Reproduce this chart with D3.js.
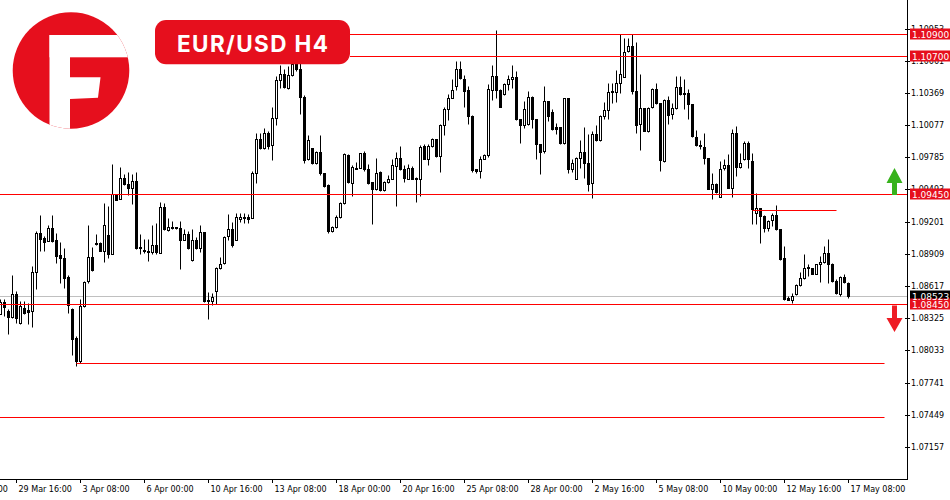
<!DOCTYPE html>
<html><head><meta charset="utf-8">
<script src="https://cdn.jsdelivr.net/npm/d3@7"></script>
<style>body{margin:0;background:#fff;} svg{display:block;}</style>
</head><body>
<svg id="chart" width="950" height="500"></svg>
<script>
// ---- Data (EUR/USD H4 candles, bar index 0..212) ----
const openP = [1.08365,1.08474,1.08389,1.08335,1.08540,1.08283,1.08419,1.08395,1.08389,1.08746,
1.09100,1.09048,1.09024,1.09145,1.09030,1.08897,1.08867,1.08698,1.08404,1.08141,
1.07936,1.08434,1.08661,1.08882,1.08994,1.09009,1.08939,1.09078,1.08909,1.09456,
1.09408,1.09598,1.09538,1.09508,1.09574,1.08967,1.08942,1.08939,1.08927,1.08988,
1.08918,1.09335,1.09124,1.09145,1.09148,1.09145,1.09030,1.09090,1.08849,1.09030,
1.08964,1.09109,1.08486,1.08480,1.08571,1.08776,1.08827,1.09069,1.09131,1.09034,
1.09227,1.09245,1.09245,1.09236,1.09638,1.09947,1.09871,1.10007,1.09892,1.10137,
1.10482,1.10542,1.10415,1.10536,1.10627,1.10582,1.10331,1.09765,1.09871,1.09729,
1.09835,1.09638,1.09532,1.09115,1.09152,1.09245,1.09366,1.09802,1.09554,1.09681,
1.09690,1.09820,1.09681,1.09560,1.09493,1.09653,1.09487,1.09560,1.09590,1.09705,
1.09774,1.09675,1.09590,1.09690,1.09599,1.09590,1.09886,1.09771,1.09886,1.09947,
1.09796,1.10074,1.10219,1.10325,1.10430,1.10582,1.10497,1.10391,1.10164,1.09675,
1.09660,1.09771,1.09802,1.10400,1.10527,1.10400,1.10355,1.10452,1.10497,1.10515,
1.10128,1.10074,1.10083,1.10334,1.10128,1.09901,1.09841,1.10300,1.10195,1.10058,
1.10058,1.09916,1.10319,1.09675,1.09590,1.09780,1.09835,1.09729,1.09554,1.09992,
1.09938,1.10164,1.10210,1.10376,1.10376,1.10461,1.10515,1.10748,1.10799,1.10385,
1.10089,1.10234,1.10022,1.10240,1.10409,1.10273,1.09750,1.10309,1.10182,1.10234,
1.10424,1.10364,1.10364,1.10264,1.09971,1.09892,1.09880,1.09780,1.09499,1.09547,
1.09427,1.09690,1.09711,1.09508,1.10001,1.09699,1.09765,1.09916,1.09750,1.09275,
1.09321,1.09251,1.09145,1.09212,1.09260,1.09130,1.08867,1.08511,1.08489,1.08541,
1.08625,1.08686,1.08783,1.08783,1.08728,1.08819,1.08834,1.08913,1.08813,1.08662,
1.08541,1.08701,1.08647];
const highP = [1.08495,1.08495,1.08404,1.08713,1.08571,1.08480,1.08480,1.08465,1.08797,1.09115,
1.09257,1.09069,1.09166,1.09257,1.09100,1.09015,1.08964,1.08713,1.08419,1.08162,
1.08495,1.08661,1.09166,1.08973,1.09090,1.09015,1.09372,1.09341,1.09728,1.09456,
1.09698,1.09629,1.09653,1.09629,1.09653,1.09090,1.09039,1.09039,1.09166,1.09190,
1.09378,1.09366,1.09236,1.09211,1.09154,1.09211,1.09136,1.09115,1.09136,1.09060,
1.09166,1.09109,1.08565,1.08549,1.08788,1.08879,1.09075,1.09266,1.09197,1.09282,
1.09282,1.09282,1.09267,1.09660,1.10007,1.10007,1.10053,1.10022,1.10243,1.10521,
1.10618,1.10582,1.10612,1.10657,1.10657,1.10657,1.10346,1.09983,1.09871,1.09841,
1.09986,1.09638,1.09539,1.09161,1.09257,1.09381,1.09820,1.09817,1.09711,1.09741,
1.09826,1.09841,1.09720,1.09560,1.09780,1.09660,1.09569,1.09620,1.09765,1.09832,
1.09886,1.09714,1.09720,1.09705,1.09602,1.09892,1.09901,1.09901,1.09962,1.09953,
1.10083,1.10243,1.10355,1.10491,1.10657,1.10657,1.10536,1.10430,1.10173,1.09681,
1.09796,1.09811,1.10446,1.10618,1.10944,1.10409,1.10461,1.10536,1.10621,1.10566,
1.10134,1.10294,1.10385,1.10340,1.10128,1.09901,1.10436,1.10300,1.10219,1.10098,
1.10058,1.10325,1.10319,1.09765,1.09786,1.09941,1.10058,1.09992,1.10022,1.10074,
1.10173,1.10285,1.10455,1.10455,1.10576,1.10908,1.10863,1.10869,1.10905,1.10829,
1.10545,1.10234,1.10243,1.10415,1.10461,1.10279,1.10316,1.10340,1.10279,1.10527,
1.10527,1.10497,1.10406,1.10270,1.10037,1.09946,1.10001,1.09780,1.09644,1.09553,
1.09750,1.09765,1.09816,1.10043,1.10067,1.09826,1.09931,1.09931,1.09826,1.09463,
1.09327,1.09257,1.09212,1.09275,1.09351,1.09136,1.08979,1.08526,1.08556,1.08631,
1.08746,1.08904,1.08813,1.08783,1.08819,1.08888,1.08979,1.09046,1.08822,1.08677,
1.08707,1.08722,1.08653];
const lowP = [1.08359,1.08344,1.08184,1.08329,1.08283,1.08268,1.08359,1.08268,1.08244,1.08586,
1.08939,1.08939,1.09024,1.09020,1.08827,1.08646,1.08601,1.08374,1.07987,1.07890,
1.07921,1.08425,1.08646,1.08752,1.08991,1.08939,1.08834,1.08867,1.08903,1.09396,
1.09408,1.09532,1.09447,1.09357,1.08954,1.08903,1.08918,1.08843,1.08903,1.08903,
1.08918,1.09124,1.09115,1.09136,1.09136,1.08767,1.09030,1.08954,1.08843,1.08954,
1.08924,1.08474,1.08320,1.08444,1.08450,1.08767,1.08821,1.09030,1.08970,1.09031,
1.09197,1.09191,1.09191,1.09230,1.09554,1.09856,1.09862,1.09856,1.09759,1.10074,
1.10415,1.10415,1.10409,1.10521,1.10566,1.10179,1.09729,1.09759,1.09720,1.09720,
1.09620,1.09517,1.09094,1.09109,1.09146,1.09236,1.09357,1.09548,1.09433,1.09675,
1.09684,1.09660,1.09539,1.09176,1.09487,1.09478,1.09478,1.09548,1.09584,1.09342,
1.09669,1.09560,1.09584,1.09584,1.09378,1.09433,1.09765,1.09714,1.09880,1.09790,
1.09654,1.09983,1.10122,1.10319,1.10400,1.10491,1.10240,1.10083,1.09650,1.09644,
1.09599,1.09765,1.09790,1.10309,1.10319,1.10240,1.10349,1.10391,1.10415,1.10122,
1.09916,1.10053,1.10074,1.10053,1.09771,1.09629,1.09826,1.10113,1.10037,1.09992,
1.09910,1.09910,1.09638,1.09650,1.09584,1.09690,1.09593,1.09478,1.09418,1.09932,
1.09932,1.10128,1.10134,1.10279,1.10288,1.10370,1.10512,1.10742,1.10355,1.10007,
1.09850,1.10022,1.10016,1.10234,1.10270,1.09660,1.09744,1.10083,1.10128,1.10225,
1.10346,1.10225,1.10128,1.09971,1.09886,1.09856,1.09726,1.09493,1.09402,1.09463,
1.09424,1.09674,1.09502,1.09424,1.09614,1.09690,1.09759,1.09690,1.09176,1.09176,
1.09003,1.09106,1.09115,1.09160,1.09124,1.08852,1.08489,1.08486,1.08465,1.08532,
1.08616,1.08677,1.08707,1.08722,1.08722,1.08653,1.08828,1.08647,1.08653,1.08547,
1.08526,1.08647,1.08511];
const closeP = [1.08474,1.08425,1.08335,1.08540,1.08329,1.08434,1.08374,1.08383,1.08746,1.09100,
1.09045,1.09018,1.09145,1.09024,1.08888,1.08870,1.08691,1.08444,1.08132,1.07936,
1.08434,1.08655,1.08882,1.08758,1.09003,1.08939,1.09166,1.08909,1.09456,1.09396,
1.09598,1.09538,1.09508,1.09574,1.08964,1.08961,1.08936,1.08927,1.08988,1.08924,
1.09335,1.09130,1.09154,1.09151,1.09142,1.09030,1.09090,1.08964,1.09030,1.08964,
1.09109,1.08480,1.08480,1.08516,1.08776,1.08818,1.09063,1.09130,1.08985,1.09245,
1.09245,1.09233,1.09227,1.09638,1.09947,1.09865,1.10007,1.09886,1.10137,1.10482,
1.10542,1.10421,1.10536,1.10627,1.10582,1.10331,1.09759,1.09941,1.09729,1.09835,
1.09638,1.09523,1.09115,1.09152,1.09245,1.09372,1.09811,1.09560,1.09696,1.09690,
1.09820,1.09675,1.09554,1.09499,1.09644,1.09487,1.09560,1.09584,1.09714,1.09774,
1.09675,1.09599,1.09690,1.09590,1.09584,1.09880,1.09771,1.09886,1.09953,1.09796,
1.10074,1.10219,1.10325,1.10400,1.10582,1.10500,1.10385,1.10164,1.09669,1.09660,
1.09771,1.09802,1.10409,1.10527,1.10400,1.10240,1.10446,1.10497,1.10515,1.10128,
1.10074,1.10225,1.10334,1.10134,1.09907,1.09832,1.10300,1.10158,1.10043,1.10046,
1.09916,1.10319,1.09675,1.09735,1.09780,1.09835,1.09735,1.09545,1.09992,1.09938,
1.10164,1.10213,1.10379,1.10385,1.10455,1.10542,1.10742,1.10799,1.10385,1.10074,
1.10234,1.10022,1.10234,1.10409,1.10273,1.09756,1.10309,1.10167,1.10234,1.10424,
1.10355,1.10355,1.10264,1.09977,1.09895,1.09886,1.09780,1.09499,1.09547,1.09469,
1.09680,1.09711,1.09508,1.10001,1.09699,1.09735,1.09916,1.09765,1.09312,1.09321,
1.09251,1.09145,1.09206,1.09260,1.09130,1.08858,1.08495,1.08489,1.08526,1.08625,
1.08686,1.08783,1.08792,1.08728,1.08819,1.08834,1.08913,1.08813,1.08662,1.08556,
1.08701,1.08653,1.08523];

const priceTicks = [1.10953,1.10661,1.10369,1.10077,1.09785,1.09493,1.09201,1.08909,1.08617,1.08325,1.08033,1.07741,1.07449,1.07157];
const timeLabels = ["27 Mar 00:00","29 Mar 16:00","3 Apr 08:00","6 Apr 00:00","10 Apr 16:00","13 Apr 08:00","18 Apr 00:00","20 Apr 16:00","25 Apr 08:00","28 Apr 00:00","2 May 16:00","5 May 08:00","10 May 00:00","12 May 16:00","17 May 08:00"];
const timeLabelBar = [-12,4,20,36,52,68,84,100,116,132,148,164,180,196,212];

// horizontal line objects
const bidPrice = 1.08523;
const redLevels = [1.10900,1.10700,1.09450,1.08450];          // full-width red levels
const lowLevels = [1.07918,1.07427];                           // lower support lines
const lowFrom = [19,-3], lowTo = [221,221];
const shortLevel = 1.09311, shortFrom = 188, shortTo = 209;    // short red segment

// price tags on the right scale
const tagPrice = [1.10900,1.10700,1.09450,1.08523,1.08450];
const tagIsBid = [false,false,false,true,false];

const title = "EUR/USD H4";

// ---- Drawing ----
const RED = "#e60f1d", LINE_RED = "#ff0000";
const svg = d3.select("#chart");
const plotRight = 907, axisBottom = 479;

const x = d3.scaleLinear().domain([0, 212]).range([0.5, 848.5]);
const y = d3.scaleLinear().domain([1.10900, 1.08450]).range([34.4, 304.4]);
const py = v => Math.round(y(v)) + 0.5;

const defs = svg.append("defs");
defs.append("clipPath").attr("id","plotClip").append("rect")
  .attr("x",0).attr("y",0).attr("width",plotRight).attr("height",axisBottom);
defs.append("clipPath").attr("id","logoClip").append("circle")
  .attr("cx",71).attr("cy",70.5).attr("r",58.3);

svg.append("rect").attr("width",950).attr("height",500).attr("fill","#fff");

const plot = svg.append("g").attr("clip-path","url(#plotClip)");

// bid line behind candles
plot.append("line").attr("class","bid")
  .attr("x1",x(-3)).attr("x2",x(230))
  .attr("y1",py(bidPrice)).attr("y2",py(bidPrice))
  .style("stroke","#c0c0c0").style("stroke-width","1px");

const bars = d3.range(openP.length).map(i=>({i,o:openP[i],h:highP[i],l:lowP[i],c:closeP[i]}));

const cg = plot.append("g");
cg.selectAll("line.wick").data(bars).join("line").attr("class","wick")
  .attr("x1",d=>x(d.i)).attr("x2",d=>x(d.i))
  .attr("y1",d=>py(d.h)).attr("y2",d=>py(d.l))
  .style("stroke","#000").style("stroke-width","1px");
cg.selectAll("rect.body").data(bars).join("rect").attr("class","body")
  .attr("x",d=>x(d.i)-1)
  .attr("y",d=>py(Math.max(d.o,d.c)))
  .attr("width",2)
  .attr("height",d=>Math.max(0, Math.round(y(Math.min(d.o,d.c))) - Math.round(y(Math.max(d.o,d.c)))))
  .style("fill",d=>d.c>=d.o ? "#fff" : "#000")
  .style("stroke","#000").style("stroke-width","1px");

// red levels (full width)
plot.selectAll("line.redlvl").data(redLevels).join("line").attr("class","redlvl")
  .attr("x1",x(-3)).attr("x2",x(230))
  .attr("y1",d=>py(d)).attr("y2",d=>py(d))
  .style("stroke",LINE_RED).style("stroke-width","1px");
// lower support lines
plot.selectAll("line.lowlvl").data(lowLevels).join("line").attr("class","lowlvl")
  .attr("x1",(d,i)=>x(lowFrom[i])).attr("x2",(d,i)=>x(lowTo[i]))
  .attr("y1",d=>py(d)).attr("y2",d=>py(d))
  .style("stroke",LINE_RED).style("stroke-width","1px");
// short red segment
plot.append("line").attr("class","shortlvl")
  .attr("x1",x(shortFrom)).attr("x2",x(shortTo))
  .attr("y1",py(shortLevel)).attr("y2",py(shortLevel))
  .style("stroke",LINE_RED).style("stroke-width","1px");

// arrows
svg.append("path")
  .attr("d","M894.5,168 L902.5,183 L897,183 L897,195 L892,195 L892,183 L886.5,183 Z")
  .style("fill","#37b21c");
svg.append("path")
  .attr("d","M892,305.5 L897,305.5 L897,318 L902.5,318 L894.5,332 L886.5,318 L892,318 Z")
  .style("fill","#ee1c24");

// axes lines
svg.append("line").attr("x1",plotRight+0.5).attr("x2",plotRight+0.5).attr("y1",0).attr("y2",axisBottom+1)
  .style("stroke","#000");
svg.append("line").attr("x1",0).attr("x2",plotRight+1).attr("y1",axisBottom+0.5).attr("y2",axisBottom+0.5)
  .style("stroke","#000");

const axisFont = "'DejaVu Sans', Verdana, sans-serif";
// price ticks
const pt = svg.append("g");
pt.selectAll("line").data(priceTicks).join("line")
  .attr("x1",plotRight-2).attr("x2",plotRight+3)
  .attr("y1",d=>py(d)).attr("y2",d=>py(d)).style("stroke","#000");
pt.selectAll("text").data(priceTicks).join("text")
  .attr("x",plotRight+4).attr("y",d=>Math.round(y(d))+3)
  .attr("font-family",axisFont).attr("font-size","8px").style("fill","#000")
  .text(d=>d.toFixed(5));

// time ticks
const tt = svg.append("g");
tt.selectAll("line").data(timeLabelBar).join("line")
  .attr("x1",d=>x(d)).attr("x2",d=>x(d))
  .attr("y1",axisBottom).attr("y2",axisBottom+4).style("stroke","#000");
tt.selectAll("text").data(timeLabels).join("text")
  .attr("x",(d,i)=>x(timeLabelBar[i])+2).attr("y",492)
  .attr("font-family",axisFont).attr("font-size","8px").style("fill","#000")
  .text(d=>d);

// price tags
const tg = svg.append("g");
const tags = tagPrice.map((p,i)=>({p,bid:tagIsBid[i]}));
tg.selectAll("rect").data(tags).join("rect")
  .attr("x",plotRight+3).attr("y",d=>Math.round(y(d.p))-5.5)
  .attr("width",40).attr("height",11)
  .style("fill",d=>d.bid ? "#000" : RED);
tg.selectAll("text").data(tags).join("text")
  .attr("x",plotRight+5).attr("y",d=>Math.round(y(d.p))+3.5)
  .attr("font-family",axisFont).attr("font-size","9px").style("fill","#fff")
  .text(d=>d.p.toFixed(5));

// banner (logo + title) on top
svg.append("rect").attr("x",0).attr("y",0).attr("width",350).attr("height",64).style("fill","#fff");
const logo = svg.append("g").attr("clip-path","url(#logoClip)");
logo.append("rect").attr("x",0).attr("y",0).attr("width",140).attr("height",140).style("fill",RED);
logo.append("rect").attr("x",49.5).attr("y",35).attr("width",20.5).attr("height",100).style("fill","#fff");
logo.append("rect").attr("x",49.5).attr("y",35).attr("width",90).attr("height",22.3).style("fill","#fff");
logo.append("path").attr("d","M70,77.3 L100.5,77.3 L98,97.8 L70,99 Z").style("fill","#fff");

svg.append("rect").attr("x",155).attr("y",20).attr("width",195).attr("height",44.3).attr("rx",11).style("fill",RED);
svg.append("text").attr("x",252.5).attr("y",51.5).attr("text-anchor","middle")
  .attr("font-family","Inter, Roboto, sans-serif").attr("font-weight",700).attr("font-size","22.5px")
  .style("fill","#fff").attr("textLength",151).attr("lengthAdjust","spacing")
  .text(title);
</script>
</body></html>
